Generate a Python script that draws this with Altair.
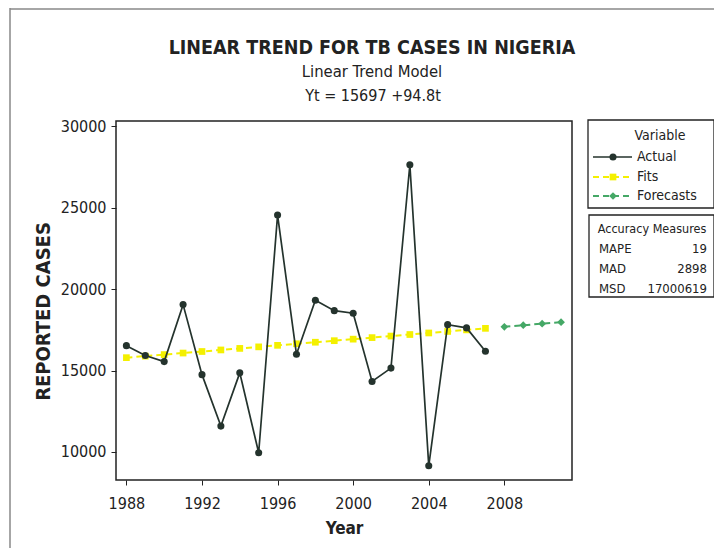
import altair as alt
import pandas as pd

# ---- data ----
years = list(range(1988, 2008))
actual = [16530, 15920, 15550, 19050, 14750, 11590, 14860, 9950, 24550, 16000,
          19320, 18680, 18520, 14330, 15150, 27640, 9150, 17820, 17620, 16190]
fits = [15792, 15887, 15981, 16076, 16171, 16266, 16361, 16455, 16550, 16645,
        16740, 16835, 16929, 17024, 17119, 17214, 17309, 17403, 17498, 17593]
fc_years = [2008, 2009, 2010, 2011]
forecasts = [17688, 17783, 17878, 17972]
x_ticks = [1988, 1992, 1996, 2000, 2004, 2008]
y_ticks = [10000, 15000, 20000, 25000, 30000]
measure_names = ["MAPE", "MAD", "MSD"]
measure_values = ["19", "2898", "17000619"]

FONT = "DejaVu Sans Condensed, DejaVu Sans, sans-serif"
DARK = "#24332d"
YELLOW = "#f4f000"
GREEN = "#45a866"

W, H = 456, 359

actual_df = pd.DataFrame({"year": years, "value": actual})
fits_df = pd.DataFrame({"year": years, "value": fits})
fc_df = pd.DataFrame({"year": fc_years, "value": forecasts})

xs = alt.Scale(domain=[1987.45, 2011.58], nice=False, zero=False)
ys = alt.Scale(domain=[8280, 30325], nice=False, zero=False)

x_enc = alt.X("year:Q", scale=xs, title="Year",
              axis=alt.Axis(values=x_ticks, format="d", grid=False, domain=False,
                            tickSize=5, tickColor="#222", labelFont=FONT, labelFontSize=16,
                            labelColor="#222", labelPadding=10, titleFont=FONT,
                            titleFontSize=17, titleFontWeight="bold", titleColor="#222",
                            titlePadding=9))
y_enc = alt.Y("value:Q", scale=ys, title="REPORTED CASES",
              axis=alt.Axis(values=y_ticks, format="d", grid=False, domain=False,
                            tickSize=5, tickColor="#222", labelFont=FONT, labelFontSize=16,
                            labelColor="#222", labelPadding=5, titleFont=FONT,
                            titleFontSize=20, titleFontWeight="bold", titleColor="#222",
                            titleX=-73, titleY=190, titleAngle=270, titleBaseline="middle"))

fits_line = alt.Chart(fits_df).mark_line(color=YELLOW, strokeWidth=2, strokeDash=[6, 4]).encode(x=x_enc, y=y_enc)
fits_pts = alt.Chart(fits_df).mark_point(shape="square", filled=True, color=YELLOW, size=45, opacity=1).encode(x="year:Q", y="value:Q")
fc_line = alt.Chart(fc_df).mark_line(color=GREEN, strokeWidth=2, strokeDash=[6, 4]).encode(x="year:Q", y="value:Q")
fc_pts = alt.Chart(fc_df).mark_point(shape="diamond", filled=True, color=GREEN, size=60, opacity=1).encode(x="year:Q", y="value:Q")
act_line = alt.Chart(actual_df).mark_line(color=DARK, strokeWidth=1.7).encode(x="year:Q", y="value:Q")
act_pts = alt.Chart(actual_df).mark_point(shape="circle", filled=True, color=DARK, size=50, opacity=1).encode(x="year:Q", y="value:Q")

one = alt.Data(values=[{}])

def text(s, x, y, size, weight="normal", align="center"):
    return alt.Chart(one).mark_text(text=s, font=FONT, fontSize=size, fontWeight=weight,
                                    align=align, baseline="middle", color="#222").encode(
        x=alt.value(x), y=alt.value(y))

def box(x1, x2, y1, y2):
    return alt.Chart(one).mark_rect(fill="white", stroke="#222", strokeWidth=1.3).encode(
        x=alt.value(x1), x2=alt.value(x2), y=alt.value(y1), y2=alt.value(y2))

def rule(x1, x2, y1, y2, color, dash=None, width=1.5):
    kw = dict(color=color, strokeWidth=width)
    if dash:
        kw["strokeDash"] = dash
    return alt.Chart(one).mark_rule(**kw).encode(
        x=alt.value(x1), x2=alt.value(x2), y=alt.value(y1), y2=alt.value(y2))

def sym(x, y, shape, color, size):
    return alt.Chart(one).mark_point(shape=shape, filled=True, color=color, size=size, opacity=1).encode(
        x=alt.value(x), y=alt.value(y))

deco = [
    # outer frame of the page
    rule(-106, -106, -113, 427, "#888", width=1.5),
    rule(-106, 598, -112, -112, "#888", width=1.5),
    # titles
    text("LINEAR TREND  FOR TB CASES IN NIGERIA", 256, -73, 19.5, "bold"),
    text("Linear Trend Model", 256, -49, 16.5),
    text("Yt = 15697 +94.8t", 257, -25, 16),
    # legend
    box(472, 598, -1, 87),
    text("Variable", 544, 15, 14),
    rule(477, 516, 36, 36, DARK, width=1.7),
    sym(497, 36, "circle", DARK, 50),
    text("Actual", 521, 36, 14, align="left"),
    rule(477, 516, 56, 56, YELLOW, dash=[6, 4], width=2),
    sym(497, 56, "square", YELLOW, 45),
    text("Fits", 521, 56, 14, align="left"),
    rule(477, 516, 75, 75, GREEN, dash=[6, 4], width=2),
    sym(497, 75, "diamond", GREEN, 60),
    text("Forecasts", 521, 75, 14, align="left"),
    # accuracy measures
    box(473, 598, 94, 176),
    text("Accuracy Measures", 536, 108, 12.5),
]
for i, (n, v) in enumerate(zip(measure_names, measure_values)):
    yy = 128 + 20 * i
    deco.append(text(n, 483, yy, 13, align="left"))
    deco.append(text(v, 591, yy, 13, align="right"))

chart = alt.layer(fits_line, fits_pts, fc_line, fc_pts, act_line, act_pts, *deco).properties(
    width=W, height=H,
    autosize=alt.AutoSizeParams(type="none"),
    padding={"left": 108, "top": 113, "right": 142, "bottom": 68},
    background="white",
).configure_view(stroke="#222", strokeWidth=1.5)

chart.save("out.html", embed_options={"renderer": "svg", "actions": False})
